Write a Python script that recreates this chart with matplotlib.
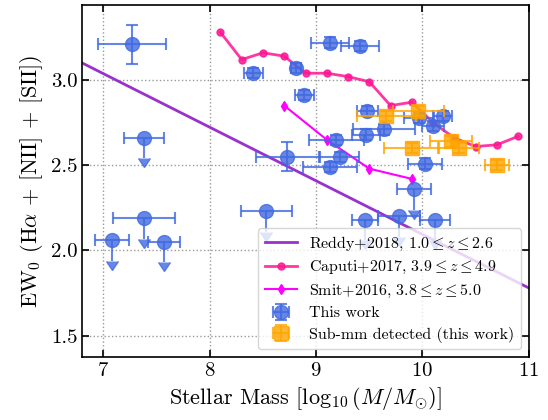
import matplotlib
matplotlib.use("Agg")
import matplotlib.pyplot as plt
import matplotlib.lines as mlines
import numpy as np

plt.rcParams['font.family'] = 'serif'
plt.rcParams['font.serif'] = ['cmr10', 'DejaVu Serif']
plt.rcParams['mathtext.fontset'] = 'cm'
plt.rcParams['axes.formatter.use_mathtext'] = True
plt.rcParams['axes.unicode_minus'] = False

# Reddy+2018 relation (end points)
reddy_x = [6.8, 11.0]
reddy_y = [3.10, 1.78]

# Caputi+2017
caputi_x = [8.1, 8.3, 8.5, 8.7, 8.9, 9.1, 9.3, 9.5, 9.7, 9.9, 10.1, 10.3, 10.5, 10.7, 10.9]
caputi_y = [3.28, 3.12, 3.16, 3.14, 3.04, 3.04, 3.02, 2.99, 2.85, 2.87, 2.75, 2.66, 2.61, 2.62, 2.67]

# Smit+2016
smit_x = [8.7, 9.1, 9.5, 9.9]
smit_y = [2.85, 2.65, 2.48, 2.42]

# This work: detections
det_x = [7.27, 8.41, 8.81, 9.13, 8.89, 8.73, 9.19, 9.22, 9.13, 9.41, 9.48, 9.64, 9.47, 10.02, 9.97, 10.10, 10.19]
det_y = [3.21, 3.04, 3.07, 3.22, 2.91, 2.55, 2.65, 2.55, 2.49, 3.20, 2.82, 2.71, 2.68, 2.51, 2.78, 2.73, 2.79]
det_xerr = [0.32, 0.09, 0.05, 0.18, 0.09, 0.30, 0.26, 0.18, 0.25, 0.18, 0.10, 0.29, 0.13, 0.16, 0.14, 0.10, 0.09]
det_yerr = [0.114, 0.03, 0.03, 0.03, 0.03, 0.085, 0.03, 0.03, 0.03, 0.03, 0.03, 0.03, 0.03, 0.03, 0.03, 0.03, 0.03]

# This work: upper limits
lim_x = [7.38, 7.38, 7.08, 7.57, 8.53, 9.92, 9.46, 9.78, 10.12]
lim_y = [2.66, 2.19, 2.06, 2.05, 2.23, 2.36, 2.18, 2.20, 2.18]
lim_xerr = [0.19, 0.29, 0.16, 0.15, 0.24, 0.16, 0.12, 0.20, 0.14]

# Sub-mm detected (this work)
smm_x = [9.66, 9.96, 9.90, 10.27, 10.34, 10.70]
smm_y = [2.79, 2.82, 2.60, 2.64, 2.60, 2.50]
smm_xerr = [0.28, 0.24, 0.26, 0.20, 0.19, 0.11]
smm_yerr = [0.03, 0.03, 0.03, 0.03, 0.03, 0.03]

arrow_len = 0.12

fig = plt.figure(figsize=(5.48, 4.2), dpi=100)
ax = fig.add_axes([0.150, 0.150, 0.815, 0.838])

blue = '#4169E1'
orange = '#FFA500'

ax.plot(reddy_x, reddy_y, color='#9932CC', lw=2, zorder=2,
        label=r'Reddy+2018, $1.0 \leq z \leq 2.6$')
ax.plot(caputi_x, caputi_y, color='#FF1493', lw=2, marker='o', ms=5, alpha=0.85, zorder=2,
        label=r'Caputi+2017, $3.9 \leq z \leq 4.9$')
ax.plot(smit_x, smit_y, color='#FF00FF', lw=1.5, marker='d', ms=5, zorder=2,
        label=r'Smit+2016, $3.8 \leq z \leq 5.0$')

ekw = dict(elinewidth=1.5, capsize=4, capthick=1.5, alpha=0.8)
ax.errorbar(det_x, det_y, xerr=det_xerr, yerr=det_yerr, fmt='o', ms=10,
            color=blue, zorder=3, label='This work', **ekw)
ax.errorbar(lim_x, lim_y, xerr=lim_xerr, fmt='o', ms=10, color=blue, zorder=3, **ekw)
lim_lo = np.array(lim_y) - arrow_len
ax.errorbar(lim_x, lim_y, yerr=[np.full(len(lim_y), arrow_len), np.zeros(len(lim_y))],
            fmt='none', ecolor=blue, elinewidth=1.5, capsize=0, alpha=0.8, zorder=3)
ax.plot(lim_x, lim_lo, linestyle='none', marker=mlines.CARETDOWNBASE, ms=9,
        color=blue, alpha=0.8, zorder=3)
ax.errorbar(smm_x, smm_y, xerr=smm_xerr, yerr=smm_yerr, fmt='s', ms=10,
            color=orange, zorder=4, label='Sub-mm detected (this work)', **ekw)

ax.set_xlim(6.8, 11.0)
ax.set_ylim(1.375, 3.44)
ax.set_xticks([7, 8, 9, 10, 11])
ax.set_yticks([1.5, 2.0, 2.5, 3.0])
ax.set_yticklabels(['1.5', '2.0', '2.5', '3.0'])
ax.tick_params(direction='in', top=True, right=True, labelsize=15, length=5, width=1.2)
ax.grid(True, linestyle=':', color='gray', alpha=0.8, lw=1)
for s in ax.spines.values():
    s.set_linewidth(1.2)

ax.set_xlabel(r'Stellar Mass [$\log_{10}(M/M_{\odot})$]', fontsize=16)
ax.set_ylabel(r'EW$_0$ (H$\alpha$ + [NII] + [SII])', fontsize=16)

ax.legend(loc='lower right', fontsize=11.5, framealpha=0.8, labelspacing=0.4)

fig.savefig('out.png', dpi=100)
